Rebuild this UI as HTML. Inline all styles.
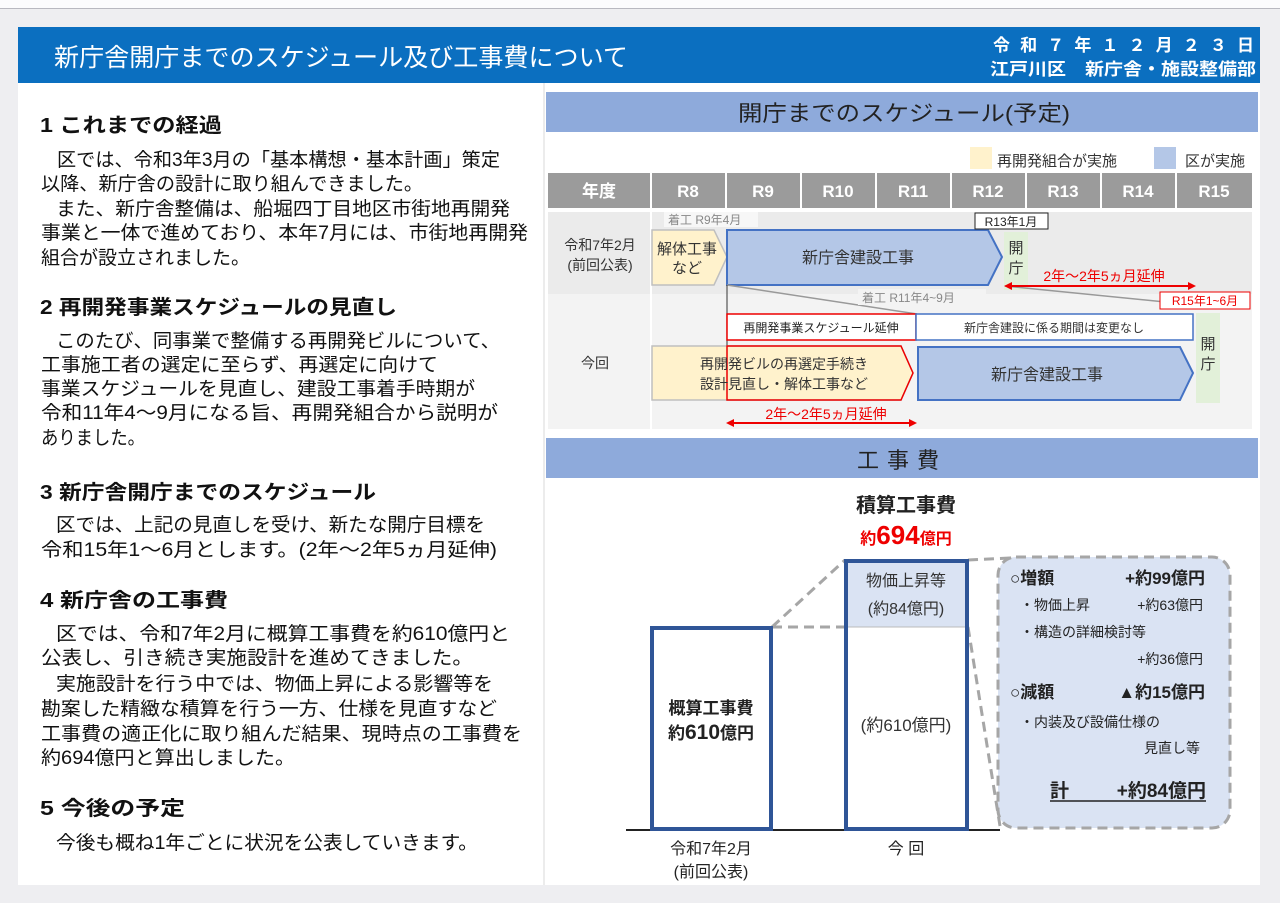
<!DOCTYPE html>
<html><head><meta charset="utf-8"><style>
html,body{margin:0;padding:0;background:#eeeef1;}
svg{display:block;font-family:"Liberation Sans","Noto Sans CJK JP",sans-serif;}
</style></head><body>
<svg width="1280" height="903" viewBox="0 0 1280 903" xmlns="http://www.w3.org/2000/svg">
<rect x="0" y="0" width="1280" height="8" fill="#fbfbfd"/>
<line x1="0" y1="8.5" x2="1280" y2="8.5" stroke="#b8b8c0"/>
<rect x="18" y="27" width="1242" height="858" fill="#fff"/>
<rect x="18" y="27" width="1242" height="56" fill="#0b6fc0"/>
<text x="54" y="66" font-size="25" fill="#fff" textLength="574" lengthAdjust="spacingAndGlyphs">新庁舎開庁までのスケジュール及び工事費について</text>
<text x="993" y="51" font-size="17" font-weight="bold" fill="#fff" textLength="261" lengthAdjust="spacing">令和７年１２月２３日</text>
<text x="990" y="75" font-size="17" font-weight="bold" fill="#fff" textLength="266" lengthAdjust="spacingAndGlyphs">江戸川区　新庁舎・施設整備部</text>
<line x1="544" y1="83" x2="544" y2="885" stroke="#d8d8d8"/>

<!-- left text -->
<g font-size="19" fill="#111">
<g font-weight="bold" font-size="20">
<text x="40" y="132" textLength="182" lengthAdjust="spacingAndGlyphs">1  これまでの経過</text>
<text x="40" y="314" textLength="357" lengthAdjust="spacingAndGlyphs">2  再開発事業スケジュールの見直し</text>
<text x="40" y="499" textLength="336" lengthAdjust="spacingAndGlyphs">3  新庁舎開庁までのスケジュール</text>
<text x="40" y="607" textLength="188" lengthAdjust="spacingAndGlyphs">4  新庁舎の工事費</text>
<text x="40" y="815" textLength="145" lengthAdjust="spacingAndGlyphs">5  今後の予定</text>
</g>
<text x="57" y="166" textLength="443" lengthAdjust="spacingAndGlyphs">区では、令和3年3月の「基本構想・基本計画」策定</text>
<text x="41" y="190" textLength="382" lengthAdjust="spacingAndGlyphs">以降、新庁舎の設計に取り組んできました。</text>
<text x="56" y="215" textLength="454" lengthAdjust="spacingAndGlyphs">また、新庁舎整備は、船堀四丁目地区市街地再開発</text>
<text x="41" y="239" textLength="487" lengthAdjust="spacingAndGlyphs">事業と一体で進めており、本年7月には、市街地再開発</text>
<text x="41" y="264" textLength="209" lengthAdjust="spacingAndGlyphs">組合が設立されました。</text>
<text x="56" y="347" textLength="444" lengthAdjust="spacingAndGlyphs">このたび、同事業で整備する再開発ビルについて、</text>
<text x="41" y="371" textLength="397" lengthAdjust="spacingAndGlyphs">工事施工者の選定に至らず、再選定に向けて</text>
<text x="41" y="395" textLength="434" lengthAdjust="spacingAndGlyphs">事業スケジュールを見直し、建設工事着手時期が</text>
<text x="41" y="419" textLength="457" lengthAdjust="spacingAndGlyphs">令和11年4～9月になる旨、再開発組合から説明が</text>
<text x="41" y="444" textLength="104" lengthAdjust="spacingAndGlyphs">ありました。</text>
<text x="56" y="531" textLength="429" lengthAdjust="spacingAndGlyphs">区では、上記の見直しを受け、新たな開庁目標を</text>
<text x="41" y="556" textLength="456" lengthAdjust="spacingAndGlyphs">令和15年1～6月とします。(2年～2年5ヵ月延伸)</text>
<text x="56" y="640" textLength="454" lengthAdjust="spacingAndGlyphs">区では、令和7年2月に概算工事費を約610億円と</text>
<text x="41" y="664" textLength="432" lengthAdjust="spacingAndGlyphs">公表し、引き続き実施設計を進めてきました。</text>
<text x="56" y="690" textLength="437" lengthAdjust="spacingAndGlyphs">実施設計を行う中では、物価上昇による影響等を</text>
<text x="41" y="715" textLength="456" lengthAdjust="spacingAndGlyphs">勘案した精緻な積算を行う一方、仕様を見直すなど</text>
<text x="41" y="740" textLength="481" lengthAdjust="spacingAndGlyphs">工事費の適正化に取り組んだ結果、現時点の工事費を</text>
<text x="41" y="764" textLength="254" lengthAdjust="spacingAndGlyphs">約694億円と算出しました。</text>
<text x="56" y="849" textLength="422" lengthAdjust="spacingAndGlyphs">今後も概ね1年ごとに状況を公表していきます。</text>
</g>

<!-- schedule -->
<rect x="546" y="92" width="712" height="40" fill="#8eaadb"/>
<text x="738" y="121" font-size="22" fill="#222" textLength="332" lengthAdjust="spacingAndGlyphs">開庁までのスケジュール(予定)</text>
<rect x="970" y="147" width="22" height="22" fill="#fff2cc"/>
<text x="997" y="166" font-size="15" fill="#333">再開発組合が実施</text>
<rect x="1154" y="147" width="22" height="22" fill="#b4c7e7"/>
<text x="1185" y="166" font-size="15" fill="#333">区が実施</text>
<rect x="548" y="212" width="704" height="82" fill="#ebebeb"/>
<rect x="548" y="294" width="704" height="135" fill="#f3f3f3"/>
<g fill="#9b9b9b">
<rect x="548" y="173" width="102" height="35"/><rect x="652" y="173" width="73" height="35"/>
<rect x="727" y="173" width="73" height="35"/><rect x="802" y="173" width="73" height="35"/>
<rect x="877" y="173" width="73" height="35"/><rect x="952" y="173" width="73" height="35"/>
<rect x="1027" y="173" width="73" height="35"/><rect x="1102" y="173" width="73" height="35"/>
<rect x="1177" y="173" width="75" height="35"/>
</g>
<g stroke="#fff" stroke-width="2"><line x1="651" y1="212" x2="651" y2="429"/></g>
<g font-size="17" font-weight="bold" fill="#fff" text-anchor="middle">
<text x="599" y="197">年度</text><text x="688" y="197">R8</text><text x="763" y="197">R9</text>
<text x="838" y="197">R10</text><text x="913" y="197">R11</text><text x="988" y="197">R12</text>
<text x="1063" y="197">R13</text><text x="1138" y="197">R14</text><text x="1214" y="197">R15</text>
</g>
<g font-size="14" fill="#333" text-anchor="middle">
<text x="600" y="250">令和7年2月</text><text x="600" y="270">(前回公表)</text>
<text x="595" y="368">今回</text>
</g>
<!-- row1 -->
<rect x="664" y="212" width="94" height="15" fill="#f7f7f7"/>
<text x="668" y="224" font-size="12" fill="#888">着工 R9年4月</text>
<polygon points="652,230 714,230 727,257 714,285 652,285" fill="#fff2cc" stroke="#bfbfbf" stroke-width="1.5"/>
<text x="687" y="254" font-size="15" fill="#333" text-anchor="middle">解体工事</text>
<text x="687" y="273" font-size="15" fill="#333" text-anchor="middle">など</text>
<polygon points="727,230 988,230 1002,257 988,285 727,285" fill="#b4c7e7" stroke="#4472c4" stroke-width="2"/>
<text x="858" y="263" font-size="16" fill="#333" text-anchor="middle">新庁舎建設工事</text>
<rect x="1004" y="232" width="24" height="58" fill="#e2f0d9"/>
<text x="1016" y="253" font-size="15" fill="#333" text-anchor="middle">開</text>
<text x="1016" y="273" font-size="15" fill="#333" text-anchor="middle">庁</text>
<rect x="975" y="213" width="73" height="16" fill="#fff" stroke="#222"/>
<text x="1011" y="226" font-size="12" fill="#222" text-anchor="middle">R13年1月</text>
<line x1="727" y1="285" x2="917" y2="314" stroke="#999" stroke-width="1.5"/>
<line x1="1005" y1="286" x2="1195" y2="305" stroke="#999" stroke-width="1.5"/>
<line x1="727" y1="285" x2="727" y2="400" stroke="#555" stroke-width="1.2"/>
<text x="1104" y="281" font-size="14" fill="#e00" text-anchor="middle">2年～2年5ヵ月延伸</text>
<line x1="1010" y1="286" x2="1190" y2="286" stroke="#e00" stroke-width="2"/>
<polygon points="1004,286 1012,282 1012,290" fill="#e00"/><polygon points="1196,286 1188,282 1188,290" fill="#e00"/>
<rect x="858" y="289" width="128" height="16" fill="#f3f3f3"/>
<text x="862" y="302" font-size="12" fill="#888">着工  R11年4~9月</text>
<rect x="1160" y="292" width="90" height="17" fill="#fff" stroke="#e00"/>
<text x="1205" y="305" font-size="12" fill="#e00" text-anchor="middle">R15年1~6月</text>
<!-- row2 -->
<rect x="727" y="314" width="189" height="26" fill="#fff" stroke="#e00" stroke-width="1.5"/>
<text x="821" y="332" font-size="12" fill="#222" text-anchor="middle">再開発事業スケジュール延伸</text>
<rect x="916" y="314" width="277" height="26" fill="#fff" stroke="#4472c4" stroke-width="1.5"/>
<text x="1054" y="332" font-size="12" fill="#333" text-anchor="middle">新庁舎建設に係る期間は変更なし</text>
<polygon points="652,346 901,346 913,373 901,400 652,400" fill="#fff2cc" stroke="#bfbfbf" stroke-width="1.5"/>
<polygon points="727,346 901,346 913,373 901,400 727,400" fill="none" stroke="#e00" stroke-width="1.5"/>
<text x="700" y="369" font-size="14" fill="#333">再開発ビルの再選定手続き</text>
<text x="700" y="389" font-size="14" fill="#333">設計見直し・解体工事など</text>
<polygon points="918,347 1180,347 1193,373 1180,400 918,400" fill="#b4c7e7" stroke="#4472c4" stroke-width="2"/>
<text x="1047" y="380" font-size="16" fill="#333" text-anchor="middle">新庁舎建設工事</text>
<rect x="1196" y="313" width="24" height="90" fill="#e2f0d9"/>
<text x="1208" y="349" font-size="15" fill="#333" text-anchor="middle">開</text>
<text x="1208" y="369" font-size="15" fill="#333" text-anchor="middle">庁</text>
<text x="826" y="419" font-size="14" fill="#e00" text-anchor="middle">2年～2年5ヵ月延伸</text>
<line x1="732" y1="423" x2="911" y2="423" stroke="#e00" stroke-width="2"/>
<polygon points="726,423 734,419 734,427" fill="#e00"/><polygon points="917,423 909,419 909,427" fill="#e00"/>

<!-- cost -->
<rect x="546" y="438" width="712" height="40" fill="#8eaadb"/>
<text x="902" y="468" font-size="22" fill="#222" text-anchor="middle" letter-spacing="8">工事費</text>
<text x="906" y="512" font-size="20" font-weight="bold" fill="#222" text-anchor="middle">積算工事費</text>
<text x="906" y="544" fill="#e00" text-anchor="middle" font-weight="bold"><tspan font-size="16">約</tspan><tspan font-size="26">694</tspan><tspan font-size="16">億円</tspan></text>
<rect x="998" y="557" width="232" height="271" rx="18" fill="#dae3f3" stroke="#a6a6a6" stroke-width="3" stroke-dasharray="10,6"/>
<g stroke="#a6a6a6" stroke-width="3" stroke-dasharray="10,6" fill="none">
<line x1="772" y1="627" x2="845" y2="560"/><line x1="772" y1="627" x2="845" y2="627"/>
<line x1="968" y1="560" x2="1010" y2="558"/><line x1="968" y1="627" x2="1000" y2="826"/>
</g>
<line x1="626" y1="830" x2="1000" y2="830" stroke="#222" stroke-width="2"/>
<rect x="652" y="628" width="119" height="201" fill="#fff" stroke="#2f5597" stroke-width="4"/>
<rect x="846" y="561" width="121" height="268" fill="#fff" stroke="#2f5597" stroke-width="4"/>
<rect x="848" y="563" width="117" height="64" fill="#dae3f3"/>
<line x1="848" y1="627" x2="965" y2="627" stroke="#bbb"/>
<text x="711" y="714" font-size="17" font-weight="bold" fill="#222" text-anchor="middle">概算工事費</text>
<text x="711" y="739" font-weight="bold" fill="#222" text-anchor="middle"><tspan font-size="17">約</tspan><tspan font-size="21">610</tspan><tspan font-size="17">億円</tspan></text>
<text x="906" y="586" font-size="16" fill="#333" text-anchor="middle">物価上昇等</text>
<text x="906" y="614" font-size="16" fill="#333" text-anchor="middle">(約84億円)</text>
<text x="906" y="731" font-size="17" fill="#333" text-anchor="middle">(約610億円)</text>
<g fill="#222">
<text x="1010" y="584" font-size="17" font-weight="bold">○増額</text>
<text x="1205" y="584" font-size="17" font-weight="bold" text-anchor="end">+約99億円</text>
<text x="1020" y="610" font-size="14">・物価上昇</text>
<text x="1203" y="610" font-size="14" text-anchor="end">+約63億円</text>
<text x="1020" y="637" font-size="14">・構造の詳細検討等</text>
<text x="1203" y="664" font-size="14" text-anchor="end">+約36億円</text>
<text x="1010" y="698" font-size="17" font-weight="bold">○減額</text>
<text x="1205" y="698" font-size="17" font-weight="bold" text-anchor="end">▲約15億円</text>
<text x="1020" y="727" font-size="14">・内装及び設備仕様の</text>
<text x="1200" y="753" font-size="14" text-anchor="end">見直し等</text>
<text x="1050" y="797" font-size="19" font-weight="bold">計</text>
<text x="1206" y="797" font-size="19" font-weight="bold" text-anchor="end">+約84億円</text>
</g>
<line x1="1050" y1="801" x2="1206" y2="801" stroke="#222" stroke-width="1.5"/>
<g font-size="16" fill="#222" text-anchor="middle">
<text x="711" y="854">令和7年2月</text><text x="711" y="877">(前回公表)</text>
<text x="906" y="854">今  回</text>
</g>
</svg>
</body></html>
